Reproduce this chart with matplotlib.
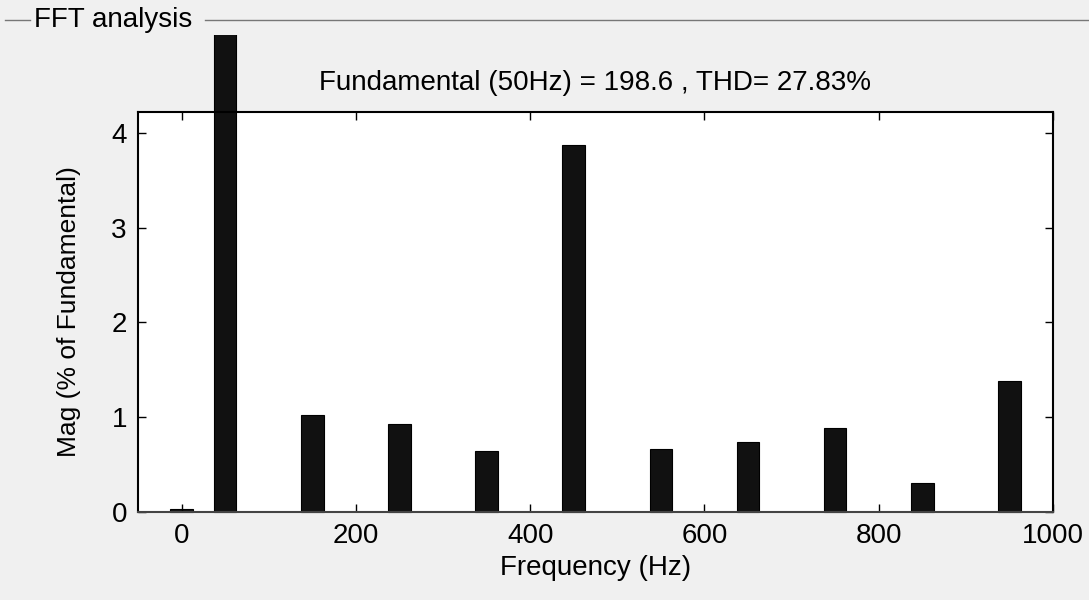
import numpy as np
import matplotlib
matplotlib.use("Agg")
import matplotlib.pyplot as plt
from matplotlib.transforms import Bbox, TransformedBbox

# harmonic magnitudes (% of fundamental)
freqs = [0, 50, 150, 250, 350, 450, 550, 650, 750, 850, 950]
mags = [0.03, 100.0, 1.02, 0.93, 0.64, 3.87, 0.66, 0.74, 0.89, 0.31, 1.38]
xticks = [0, 200, 400, 600, 800, 1000]
yticks = [0, 1, 2, 3, 4]
title = "Fundamental (50Hz) = 198.6 , THD= 27.83%"

bg = "#f0f0f0"
plt.rcParams['font.family'] = ['Liberation Sans', 'DejaVu Sans']

fig = plt.figure(figsize=(10.89, 6), dpi=100, facecolor=bg)
ax = fig.add_axes([138/1089, 1-512/600, (1053-138)/1089, (512-112)/600])
ax.set_facecolor('white')

bars = ax.bar(freqs, mags, width=26, color='#111111', edgecolor='black', linewidth=0.8)
# the fundamental bar runs out of the axes, up to just under the panel line
clip = TransformedBbox(Bbox([[0, 0], [1, 1-35/600]]), fig.transFigure)
for b in bars:
    b.set_clip_path(None)
    b.set_clip_box(clip)
    b.set_clip_on(True)

ax.set_xlim(-50, 1000)
ax.set_ylim(0, 4.22)
ax.set_xticks(xticks)
ax.set_yticks(yticks)
ax.tick_params(direction='in', length=6, width=1, labelsize=20, top=True, right=True, pad=8)
for s in ax.spines.values():
    s.set_linewidth(1.5)
ax.spines['bottom'].set_color('#444444')

ax.set_xlabel('Frequency (Hz)', fontsize=20, labelpad=4)
ax.set_ylabel('Mag (% of Fundamental)', fontsize=19, labelpad=22)
fig.text(595/1089, 1-83/600, title, fontsize=20, ha='center', va='center')

# panel frame title
fig.text(34/1089, 1-20/600, 'FFT analysis', fontsize=20, ha='left', va='center')
fig.add_artist(plt.Line2D([5/1089, 30/1089], [1-20/600, 1-20/600], color='#777777', lw=1))
fig.add_artist(plt.Line2D([205/1089, 1.0], [1-20/600, 1-20/600], color='#777777', lw=1))

fig.savefig('out.png', dpi=100, facecolor=bg)
